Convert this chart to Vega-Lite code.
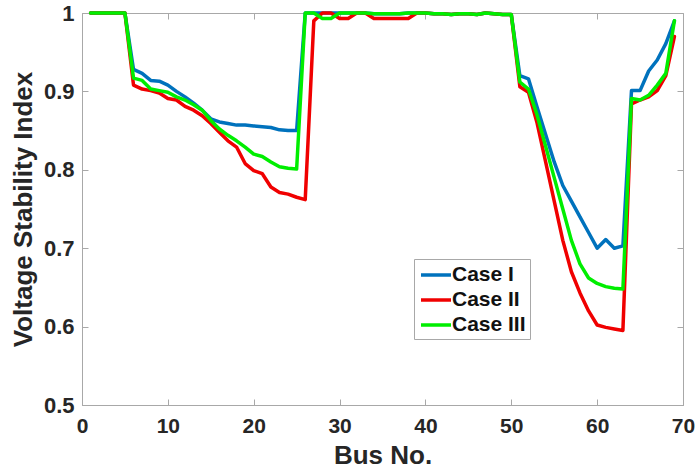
{
  "$schema": "https://vega.github.io/schema/vega-lite/v6.json",
  "width": 601,
  "height": 392,
  "autosize": {"type": "none"},
  "padding": {"left": 82, "top": 13, "right": 12, "bottom": 65},
  "background": "white",
  "config": {
    "view": {"stroke": "#a8a8a8", "strokeWidth": 1},
    "font": "Liberation Sans",
    "axis": {
      "grid": false,
      "domainColor": "#a8a8a8",
      "tickColor": "#a8a8a8",
      "labelFont": "Liberation Sans",
      "labelFontWeight": "bold",
      "labelFontSize": 22,
      "labelColor": "#262626",
      "titleFont": "Liberation Sans",
      "titleFontWeight": "bold",
      "titleFontSize": 26,
      "titleColor": "#262626"
    }
  },
  "data": {
    "values": [
      {"bus": 1, "Case I": 1.0, "Case II": 1.0, "Case III": 1.0},
      {"bus": 2, "Case I": 1.0, "Case II": 1.0, "Case III": 1.0},
      {"bus": 3, "Case I": 1.0, "Case II": 1.0, "Case III": 1.0},
      {"bus": 4, "Case I": 1.0, "Case II": 1.0, "Case III": 1.0},
      {"bus": 5, "Case I": 1.0, "Case II": 1.0, "Case III": 1.0},
      {"bus": 6, "Case I": 0.928, "Case II": 0.908, "Case III": 0.917},
      {"bus": 7, "Case I": 0.923, "Case II": 0.903, "Case III": 0.914},
      {"bus": 8, "Case I": 0.914, "Case II": 0.901, "Case III": 0.903},
      {"bus": 9, "Case I": 0.913, "Case II": 0.898, "Case III": 0.901},
      {"bus": 10, "Case I": 0.908, "Case II": 0.891, "Case III": 0.899},
      {"bus": 11, "Case I": 0.900, "Case II": 0.889, "Case III": 0.893},
      {"bus": 12, "Case I": 0.893, "Case II": 0.881, "Case III": 0.889},
      {"bus": 13, "Case I": 0.885, "Case II": 0.876, "Case III": 0.883},
      {"bus": 14, "Case I": 0.876, "Case II": 0.869, "Case III": 0.876},
      {"bus": 15, "Case I": 0.865, "Case II": 0.859, "Case III": 0.863},
      {"bus": 16, "Case I": 0.861, "Case II": 0.848, "Case III": 0.852},
      {"bus": 17, "Case I": 0.859, "Case II": 0.837, "Case III": 0.844},
      {"bus": 18, "Case I": 0.857, "Case II": 0.829, "Case III": 0.837},
      {"bus": 19, "Case I": 0.857, "Case II": 0.808, "Case III": 0.829},
      {"bus": 20, "Case I": 0.856, "Case II": 0.799, "Case III": 0.820},
      {"bus": 21, "Case I": 0.855, "Case II": 0.795, "Case III": 0.817},
      {"bus": 22, "Case I": 0.854, "Case II": 0.778, "Case III": 0.810},
      {"bus": 23, "Case I": 0.851, "Case II": 0.771, "Case III": 0.804},
      {"bus": 24, "Case I": 0.850, "Case II": 0.769, "Case III": 0.802},
      {"bus": 25, "Case I": 0.850, "Case II": 0.765, "Case III": 0.801},
      {"bus": 26, "Case I": 1.0, "Case II": 0.762, "Case III": 1.0},
      {"bus": 27, "Case I": 1.0, "Case II": 0.990, "Case III": 1.0},
      {"bus": 28, "Case I": 1.0, "Case II": 1.0, "Case III": 0.993},
      {"bus": 29, "Case I": 1.0, "Case II": 1.0, "Case III": 0.993},
      {"bus": 30, "Case I": 1.0, "Case II": 0.993, "Case III": 1.0},
      {"bus": 31, "Case I": 1.0, "Case II": 0.993, "Case III": 1.0},
      {"bus": 32, "Case I": 1.0, "Case II": 1.0, "Case III": 1.0},
      {"bus": 33, "Case I": 1.0, "Case II": 1.0, "Case III": 1.0},
      {"bus": 34, "Case I": 0.999, "Case II": 0.993, "Case III": 0.999},
      {"bus": 35, "Case I": 0.999, "Case II": 0.993, "Case III": 0.999},
      {"bus": 36, "Case I": 0.999, "Case II": 0.993, "Case III": 0.999},
      {"bus": 37, "Case I": 0.999, "Case II": 0.993, "Case III": 0.999},
      {"bus": 38, "Case I": 1.0, "Case II": 0.993, "Case III": 1.0},
      {"bus": 39, "Case I": 1.0, "Case II": 1.0, "Case III": 1.0},
      {"bus": 40, "Case I": 1.0, "Case II": 1.0, "Case III": 1.0},
      {"bus": 41, "Case I": 0.999, "Case II": 0.999, "Case III": 0.999},
      {"bus": 42, "Case I": 0.999, "Case II": 0.999, "Case III": 0.999},
      {"bus": 43, "Case I": 0.998, "Case II": 0.998, "Case III": 0.998},
      {"bus": 44, "Case I": 0.999, "Case II": 0.999, "Case III": 0.999},
      {"bus": 45, "Case I": 0.999, "Case II": 0.999, "Case III": 0.999},
      {"bus": 46, "Case I": 0.998, "Case II": 0.998, "Case III": 0.998},
      {"bus": 47, "Case I": 1.0, "Case II": 1.0, "Case III": 1.0},
      {"bus": 48, "Case I": 0.999, "Case II": 0.999, "Case III": 0.999},
      {"bus": 49, "Case I": 0.998, "Case II": 0.998, "Case III": 0.998},
      {"bus": 50, "Case I": 0.998, "Case II": 0.998, "Case III": 0.998},
      {"bus": 51, "Case I": 0.920, "Case II": 0.906, "Case III": 0.912},
      {"bus": 52, "Case I": 0.916, "Case II": 0.899, "Case III": 0.903},
      {"bus": 53, "Case I": 0.880, "Case II": 0.860, "Case III": 0.870},
      {"bus": 54, "Case I": 0.845, "Case II": 0.810, "Case III": 0.830},
      {"bus": 55, "Case I": 0.810, "Case II": 0.760, "Case III": 0.790},
      {"bus": 56, "Case I": 0.780, "Case II": 0.710, "Case III": 0.750},
      {"bus": 57, "Case I": 0.760, "Case II": 0.670, "Case III": 0.710},
      {"bus": 58, "Case I": 0.740, "Case II": 0.643, "Case III": 0.680},
      {"bus": 59, "Case I": 0.720, "Case II": 0.620, "Case III": 0.662},
      {"bus": 60, "Case I": 0.700, "Case II": 0.602, "Case III": 0.655},
      {"bus": 61, "Case I": 0.711, "Case II": 0.599, "Case III": 0.651},
      {"bus": 62, "Case I": 0.700, "Case II": 0.597, "Case III": 0.649},
      {"bus": 63, "Case I": 0.703, "Case II": 0.595, "Case III": 0.648},
      {"bus": 64, "Case I": 0.901, "Case II": 0.884, "Case III": 0.891},
      {"bus": 65, "Case I": 0.901, "Case II": 0.889, "Case III": 0.889},
      {"bus": 66, "Case I": 0.926, "Case II": 0.893, "Case III": 0.895},
      {"bus": 67, "Case I": 0.940, "Case II": 0.901, "Case III": 0.908},
      {"bus": 68, "Case I": 0.961, "Case II": 0.920, "Case III": 0.923},
      {"bus": 69, "Case I": 0.990, "Case II": 0.970, "Case III": 0.990}
    ]
  },
  "transform": [
    {"fold": ["Case I", "Case II", "Case III"], "as": ["case", "vsi"]}
  ],
  "resolve": {"axis": {"x": "independent", "y": "independent"}},
  "layer": [
    {
      "mark": {"type": "line", "strokeWidth": 3.5, "strokeJoin": "round", "strokeCap": "round"},
      "encoding": {
        "x": {
          "field": "bus", "type": "quantitative",
          "scale": {"domain": [0, 70], "nice": false, "zero": false},
          "axis": {"orient": "bottom", "values": [0, 10, 20, 30, 40, 50, 60, 70], "tickSize": -6, "labelPadding": 16, "labelFontSize": 21, "title": "Bus No.", "titlePadding": 6, "labelFlush": false}
        },
        "y": {
          "field": "vsi", "type": "quantitative",
          "scale": {"domain": [0.5, 1], "nice": false, "zero": false},
          "axis": {"orient": "left", "values": [0.5, 0.6, 0.7, 0.8, 0.9, 1], "format": ".1~f", "tickSize": -6, "labelPadding": 14, "title": "Voltage Stability Index", "titlePadding": 7, "labelFlush": false}
        },
        "color": {
          "field": "case", "type": "nominal",
          "scale": {"domain": ["Case I", "Case II", "Case III"], "range": ["#0072BD", "#F00000", "#00EE00"]},
          "legend": {
            "orient": "none", "legendX": 332, "legendY": 246,
            "title": null, "symbolType": "M-1.5,0H1.5", "symbolStrokeWidth": 3.5, "symbolSize": 400,
            "symbolOffset": 6,
            "labelFont": "Liberation Sans", "labelFontWeight": "bold", "labelFontSize": 21, "labelColor": "#111111",
            "labelOffset": 4, "rowPadding": 3, "padding": 4,
            "strokeColor": "#a8a8a8", "fillColor": "white"
          }
        }
      }
    },
    {
      "mark": {"type": "line", "opacity": 0},
      "encoding": {
        "x": {"field": "bus", "type": "quantitative", "axis": {"orient": "top", "values": [0, 10, 20, 30, 40, 50, 60, 70], "tickSize": -6, "labels": false, "title": null, "domain": false}},
        "y": {"field": "vsi", "type": "quantitative", "axis": {"orient": "right", "values": [0.5, 0.6, 0.7, 0.8, 0.9, 1], "tickSize": -6, "labels": false, "title": null, "domain": false}},
        "detail": {"field": "case"}
      }
    }
  ]
}
